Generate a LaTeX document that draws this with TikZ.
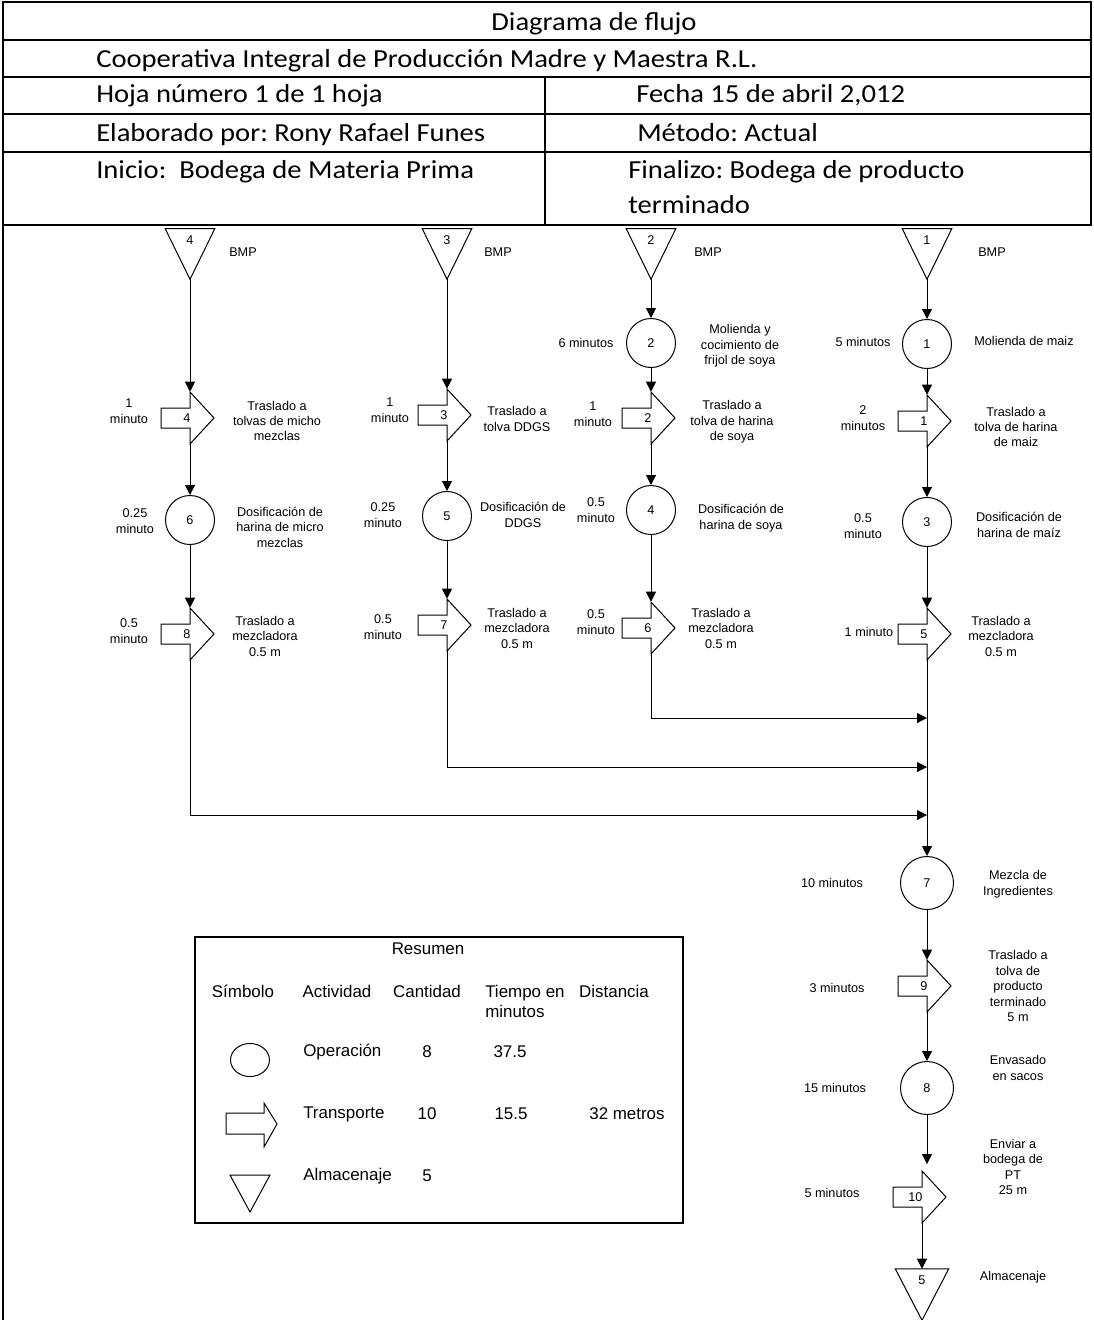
\documentclass[tikz,border=0pt]{standalone}
\usepackage{fontspec}
\setmainfont{Liberation Sans}
\newfontfamily\hdrfamily{Carlito}[FakeStretch=1.1]
\usetikzlibrary{arrows.meta}
\frenchspacing
\newcommand\dgfont{\fontsize{9.5pt}{11.6pt}\selectfont}
\newcommand\smfont{\fontsize{12.7pt}{15pt}\selectfont}
\newcommand\hdfont{\hdrfamily\fontsize{19.5pt}{26pt}\selectfont}
\begin{document}
\begin{tikzpicture}[x=0.75pt, y=-0.75pt,
  frame/.style={line width=1.5pt},
  shp/.style={line width=0.75pt},
  flow/.style={line width=0.75pt, -{Triangle[width=7.5pt,length=7.5pt]}},
  htext/.style={anchor=base west, inner sep=0pt, font=\hdfont},
  dg/.style={inner sep=0pt, align=center, font=\dgfont},
  sm/.style={inner sep=0pt, align=center, font=\smfont},
  op/.style={circle, draw, line width=0.75pt, minimum size=36.75pt, inner sep=0pt, font=\dgfont},
  opbig/.style={op, minimum size=39.75pt},
  st/.style={rectangle, inner sep=0pt, minimum width=36.75pt, minimum height=37.5pt},
  tr/.style={rectangle, inner sep=0pt, minimum width=0pt, minimum height=39pt}]
\useasboundingbox (0,0) rectangle (1094,1320);

% ---- title block ----
\draw[frame] (3,1320) -- (3,2) -- (1091,2) -- (1091,225) -- (3,225);
\draw[frame] (3,40) -- (1091,40);
\draw[frame] (3,77) -- (1091,77);
\draw[frame] (3,114) -- (1091,114);
\draw[frame] (3,152) -- (1091,152);
\draw[frame] (545,77) -- (545,225);
\node[htext, anchor=base] (h1) at (594,31) {Diagrama de flujo};
\node[htext] (h2) at (96,68) {Cooperativa Integral de Producción Madre y Maestra R.L.};
\node[htext] (h3) at (96,103) {Hoja número 1 de 1 hoja};
\node[htext] (h4) at (636,103) {Fecha 15 de abril 2,012};
\node[htext] (h5) at (96,141) {Elaborado por: Rony Rafael Funes};
\node[htext] (h6) at (637,141) {Método: Actual};
\node[htext] (h7) at (96,178) {Inicio: \ Bodega de Materia Prima};
\node[htext] (h8) at (628,178) {Finalizo: Bodega de producto};
\node[htext] (h9) at (628,213) {terminado};

% ---- storage symbols ----
\node[st] (s4) at (190,254) {};
\node[st] (s3) at (447,254) {};
\node[st] (s2) at (651,254) {};
\node[st] (s1) at (927,254) {};
\node[st, minimum width=39.75pt, minimum height=38.25pt] (s5) at (922,1294.5) {};
\foreach \s/\v in {s1/1,s2/2,s3/3,s4/4,s5/5}{
  \draw[shp] (\s.north west) -- (\s.north east) -- (\s.south) -- cycle;
  \node[dg] (n\s) at ([yshift=-8.5pt]\s.north) {\v};
}

% ---- operations ----
\node[op] (o1) at (927,344) {1};
\node[op] (o2) at (651,343) {2};
\node[op] (o3) at (927,522) {3};
\node[op] (o4) at (651,510) {4};
\node[op] (o5) at (447,516) {5};
\node[op] (o6) at (190,520) {6};
\node[opbig] (o7) at (927,883) {7};
\node[opbig] (o8) at (927,1088) {8};

% ---- transports ----
\node[tr] (t1) at (927,421) {};
\node[tr] (t2) at (651,418) {};
\node[tr] (t3) at (447,415) {};
\node[tr] (t4) at (190,418) {};
\node[tr] (t5) at (927,634) {};
\node[tr] (t6) at (651,628) {};
\node[tr] (t7) at (447,625) {};
\node[tr] (t8) at (190,634) {};
\node[tr] (t9) at (927,986) {};
\node[tr] (t10) at (922,1197) {};
\foreach \t/\v in {t1/1,t2/2,t3/3,t4/4,t5/5,t6/6,t7/7,t8/8,t9/9,t10/10}{
  \draw[shp] ([shift={(0,-26)}]\t.center) -- ([shift={(24,0)}]\t.center)
    -- ([shift={(0,26)}]\t.center) -- ([shift={(0,10)}]\t.center)
    -- ([shift={(-29,10)}]\t.center) -- ([shift={(-29,-10)}]\t.center)
    -- ([shift={(0,-10)}]\t.center) -- cycle;
  \node[dg, anchor=east] (n\t) at ([xshift=0.5pt]\t.center) {\v};
}

% ---- flow lines ----
\coordinate (j2) at (927,718);
\coordinate (j3) at (927,767);
\coordinate (j4) at (927,815);
\draw[flow] (s4.south) -- (t4.north);
\draw[flow] (t4.south) -- (o6.north);
\draw[flow] (o6.south) -- (t8.north);
\draw[flow] (t8.south) |- (j4);
\draw[flow] (s3.south) -- (t3.north);
\draw[flow] (t3.south) -- (o5.north);
\draw[flow] (o5.south) -- (t7.north);
\draw[flow] (t7.south) |- (j3);
\draw[flow] (s2.south) -- (o2.north);
\draw[flow] (o2.south) -- (t2.north);
\draw[flow] (t2.south) -- (o4.north);
\draw[flow] (o4.south) -- (t6.north);
\draw[flow] (t6.south) |- (j2);
\draw[flow] (s1.south) -- (o1.north);
\draw[flow] (o1.south) -- (t1.north);
\draw[flow] (t1.south) -- (o3.north);
\draw[flow] (o3.south) -- (t5.north);
\draw[flow] (t5.south) -- (o7.north);
\draw[flow] (o7.south) -- (t9.north);
\draw[flow] (t9.south) -- (o8.north);
\draw[flow, shorten >=5pt] (o8.south) -- (o8.south |- t10.north);
\draw[flow] (t10.south) -- (s5.north);

% ---- step texts ----
\node[dg] (b4) at (243,252) {BMP};
\node[dg] (m4a) at (129,411) {1\\minuto};
\node[dg] (d4a) at (277,421) {Traslado a\\tolvas de micho\\mezclas};
\node[dg] (m4b) at (135,521) {0.25\\minuto};
\node[dg] (d4b) at (280,527) {Dosificación de\\harina de micro\\mezclas};
\node[dg] (m4c) at (129,631) {0.5\\minuto};
\node[dg] (d4c) at (265,636) {Traslado a\\mezcladora\\0.5 m};

\node[dg] (b3) at (498,252) {BMP};
\node[dg] (m3a) at (390,410) {1\\minuto};
\node[dg] (d3a) at (517,419) {Traslado a\\tolva DDGS};
\node[dg] (m3b) at (383,515) {0.25\\minuto};
\node[dg] (d3b) at (523,515) {Dosificación de\\DDGS};
\node[dg] (m3c) at (383,627) {0.5\\minuto};
\node[dg] (d3c) at (517,628) {Traslado a\\mezcladora\\0.5 m};

\node[dg] (b2) at (708,252) {BMP};
\node[dg] (m2a) at (586,343) {6 minutos};
\node[dg] (d2a) at (740,346) {Molienda y\\cocimiento de\\frijol de soya};
\node[dg] (m2b) at (593,414) {1\\minuto};
\node[dg] (d2b) at (732,422) {Traslado a\\tolva de harina\\de soya};
\node[dg] (m2c) at (596,510) {0.5\\minuto};
\node[dg] (d2c) at (741,518) {Dosificación de\\harina de soya};
\node[dg] (m2d) at (596,622) {0.5\\minuto};
\node[dg] (d2d) at (721,628) {Traslado a\\mezcladora\\0.5 m};

\node[dg] (b1) at (992,252) {BMP};
\node[dg] (m1a) at (863,342) {5 minutos};
\node[dg] (d1a) at (1024,341) {Molienda de maiz};
\node[dg] (m1b) at (863,418) {2\\minutos};
\node[dg] (d1b) at (1016,427) {Traslado a\\tolva de harina\\de maiz};
\node[dg] (m1c) at (863,526) {0.5\\minuto};
\node[dg] (d1c) at (1019,525) {Dosificación de\\harina de maíz};
\node[dg] (m1d) at (869,632) {1 minuto};
\node[dg] (d1d) at (1001,636) {Traslado a\\mezcladora\\0.5 m};

\node[dg] (m7) at (832,883) {10 minutos};
\node[dg] (d7) at (1018,884) {Mezcla de\\Ingredientes};
\node[dg] (m9) at (837,988) {3 minutos};
\node[dg] (d9) at (1018,986) {Traslado a\\tolva de\\producto\\terminado\\5 m};
\node[dg] (m8) at (835,1088) {15 minutos};
\node[dg] (d8) at (1018,1068) {Envasado\\en sacos};
\node[dg] (m10) at (832,1193) {5 minutos};
\node[dg] (d10) at (1013,1167) {Enviar a\\bodega de\\PT\\25 m};
\node[dg] (d5) at (1013,1277) {Almacenaje};

% ---- summary box ----
\draw[frame] (195,937) rectangle (683,1223);
\node[sm] (r0) at (428,949) {Resumen};
\node[sm] (rh1) at (243,991) {Símbolo};
\node[sm] (rh2) at (337,991) {Actividad};
\node[sm] (rh3) at (427,991) {Cantidad};
\node[sm, anchor=west, align=left] (rh4) at (485,1001) {Tiempo en\\minutos};
\node[sm] (rh5) at (614,991) {Distancia};
\draw[shp] (250,1060) ellipse [x radius=14.6pt, y radius=12.4pt];
\draw[shp] (226,1113) -- (264,1113) -- (264,1103) -- (277,1124) -- (264,1147)
  -- (264,1134) -- (226,1134) -- cycle;
\draw[shp] (230,1175) -- (270,1175) -- (250,1212) -- cycle;
\node[sm, anchor=west] (ra1) at (303,1052) {Operación};
\node[sm] (rq1) at (427,1052) {8};
\node[sm] (rt1) at (510,1052) {37.5};
\node[sm, anchor=west] (ra2) at (303,1114) {Transporte};
\node[sm] (rq2) at (427,1114) {10};
\node[sm] (rt2) at (511,1114) {15.5};
\node[sm] (rd2) at (627,1114) {32 metros};
\node[sm, anchor=west] (ra3) at (303,1176) {Almacenaje};
\node[sm] (rq3) at (427,1176) {5};
\end{tikzpicture}
\end{document}
